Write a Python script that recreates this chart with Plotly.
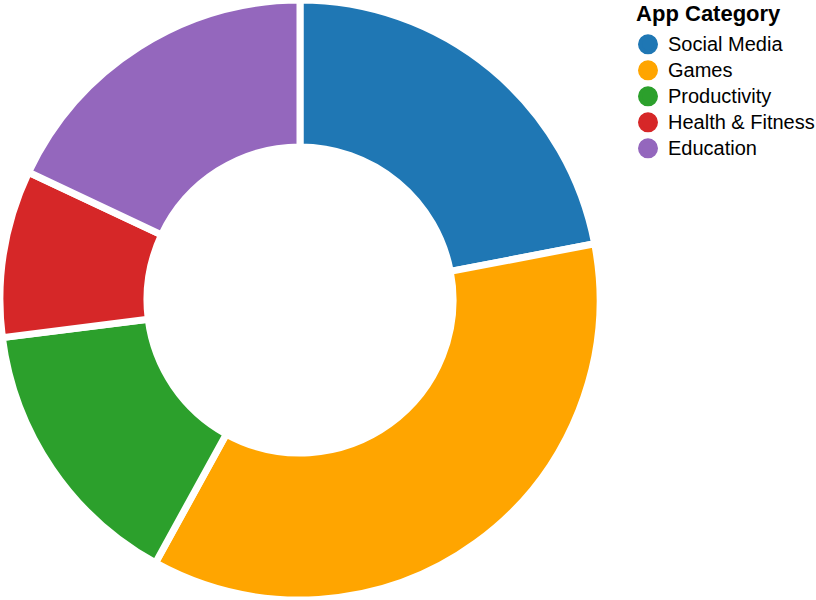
import plotly.graph_objects as go

categories = ["Social Media", "Games", "Productivity", "Health & Fitness", "Education"]
values = [22, 36, 15, 9, 18]
colors = ["#1f77b4", "#ffa500", "#2ca02c", "#d62728", "#9467bd"]

fig = go.Figure()
fig.add_trace(go.Pie(
    labels=categories,
    values=values,
    hole=0.51,
    sort=False,
    direction="clockwise",
    rotation=0,
    textinfo="none",
    marker=dict(colors=colors, line=dict(color="white", width=7)),
    domain=dict(x=[0, 600 / 816], y=[0, 1]),
    showlegend=False,
))

for cat, col in zip(categories, colors):
    fig.add_trace(go.Scatter(
        x=[None], y=[None], mode="markers",
        name='<span style="font-size:20px">' + cat.replace("&", "&amp;") + "</span>",
        marker=dict(color=col, size=16, symbol="circle",
                    line=dict(color=col, width=4)),
        showlegend=True,
    ))

fig.update_layout(
    width=816, height=600,
    margin=dict(l=0, r=0, t=0, b=0, autoexpand=False),
    paper_bgcolor="white",
    plot_bgcolor="white",
    xaxis=dict(visible=False),
    yaxis=dict(visible=False),
    font=dict(family="Liberation Sans, Arial, sans-serif", color="#000"),
    legend=dict(
        title=dict(text='\u00a0<br><sup><span style="font-size:22px"><b>\u00a0App Category</b></span></sup>',
                   font=dict(size=13.7)),
        font=dict(size=17.7),
        x=628 / 816, y=1 + 9.3 / 600, xanchor="left", yanchor="top",
        itemwidth=30,
        bgcolor="rgba(0,0,0,0)",
    ),
)

fig.write_html("out.html", config={"displayModeBar": False},
               post_script="document.body.style.margin='0px';")
